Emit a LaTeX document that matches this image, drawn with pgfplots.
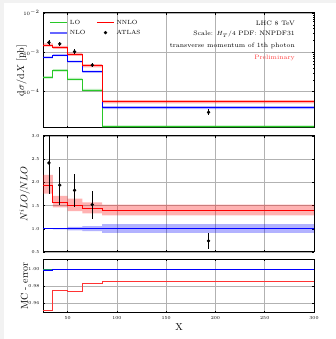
\documentclass[border=0pt]{standalone}
\usepackage{pgfplots}
\pgfplotsset{compat=1.18}
\definecolor{lograin}{RGB}{40,200,40}
\pgfplotsset{
  panel/.style={
    scale only axis, width=271pt,
    xmin=25, xmax=300, xtick={50,100,150,200,250,300},
    grid=major, major grid style={black!30, line width=0.7pt},
    axis line style={line width=1pt},
    tick align=inside, major tick length=2pt, minor tick length=1pt,
    tick style={black, line width=0.5pt},
    tick label style={font=\fontsize{4.5}{5}\selectfont},
    label style={font=\fontsize{8}{9}\selectfont},
    clip=true,
  },
}
\begin{document}
\begin{tikzpicture}
\useasboundingbox (0,0) rectangle (336pt,339pt);
\fill[black!5] (0,0) rectangle (336pt,339pt);
\fill[white] (4pt,0) rectangle (336pt,336pt);
% ---------- top panel ----------
\begin{axis}[panel, at={(43pt,211pt)}, anchor=south west, height=115pt,
  ymode=log, ymin=1.2e-5, ymax=1e-2, ytick={1e-4,1e-3,1e-2},
  xticklabels={},
  ylabel={$\mathrm{d}\sigma/\mathrm{d}X$ [pb]},
  every axis y label/.style={at={(axis description cs:-0.079,0.5)},rotate=90,anchor=center},
  legend columns=2,
  legend style={at={(axis description cs:0.01,0.975)}, anchor=north west, draw=none, fill=none,
    font=\fontsize{6}{7.5}\selectfont, /tikz/every even column/.append style={column sep=9pt}},
  legend cell align=left,
]
% bands
\addplot[forget plot, fill=lograin, fill opacity=0.3, draw=none] coordinates {
(25,2.5e-4)(35,2.5e-4)(35,3.75e-4)(50,3.75e-4)(50,2.26e-4)(65,2.26e-4)(65,1.18e-4)(85,1.18e-4)(85,1.39e-5)(300,1.39e-5)
(300,1.2e-5)(85,1.2e-5)(85,1.02e-4)(65,1.02e-4)(65,1.95e-4)(50,1.95e-4)(50,3.25e-4)(35,3.25e-4)(35,2.16e-4)(25,2.16e-4)} -- cycle;
\addplot[forget plot, fill=blue, fill opacity=0.3, draw=none] coordinates {
(25,7.9e-4)(35,7.9e-4)(35,9.0e-4)(50,9.0e-4)(50,6.15e-4)(65,6.15e-4)(65,3.45e-4)(85,3.45e-4)(85,4.3e-5)(300,4.3e-5)
(300,3.6e-5)(85,3.6e-5)(85,3.0e-4)(65,3.0e-4)(65,5.45e-4)(50,5.45e-4)(50,8.0e-4)(35,8.0e-4)(35,7.05e-4)(25,7.05e-4)} -- cycle;
\addplot[forget plot, fill=red, fill opacity=0.3, draw=none] coordinates {
(25,1.68e-3)(35,1.68e-3)(35,1.47e-3)(50,1.47e-3)(50,0.98e-3)(65,0.98e-3)(65,5.0e-4)(85,5.0e-4)(85,6.1e-5)(300,6.1e-5)
(300,5.05e-5)(85,5.05e-5)(85,4.15e-4)(65,4.15e-4)(65,0.81e-3)(50,0.81e-3)(50,1.22e-3)(35,1.22e-3)(35,1.39e-3)(25,1.39e-3)} -- cycle;
% lines
\addplot[forget plot, const plot, lograin, line width=1pt] coordinates {(25,2.32e-4)(35,3.49e-4)(50,2.1e-4)(65,1.1e-4)(85,1.29e-5)(300,1.29e-5)};
\addplot[forget plot, const plot, blue, line width=1pt] coordinates {(25,7.46e-4)(35,8.5e-4)(50,5.78e-4)(65,3.22e-4)(85,3.93e-5)(300,3.93e-5)};
\addplot[forget plot, const plot, red, line width=1pt] coordinates {(25,1.53e-3)(35,1.34e-3)(50,0.89e-3)(65,4.57e-4)(85,5.57e-5)(300,5.57e-5)};
% data
\addplot[forget plot, only marks, mark=*, mark size=1.5pt, black,
  error bars/.cd, y dir=both, y explicit, error bar style={line width=0.8pt}, error mark=none] coordinates {
(31,1.79e-3) += (0,0.33e-3) -= (0,0.28e-3)
(42,1.65e-3) += (0,0.22e-3) -= (0,0.2e-3)
(57,1.04e-3) += (0,0.15e-3) -= (0,0.13e-3)
(75,4.76e-4) += (0,0.65e-4) -= (0,0.6e-4)
(193,3.0e-5) += (0,0.6e-5) -= (0,0.5e-5)};
\addlegendimage{lograin, line width=1pt}
\addlegendentry{LO}
\addlegendimage{red, line width=1pt}
\addlegendentry{NNLO}
\addlegendimage{blue!60, line width=2pt}
\addlegendentry{NLO}
\addlegendimage{only marks, mark=*, mark size=1.5pt, black}
\addlegendentry{ATLAS}
\node[anchor=east, font=\fontsize{6.4}{8}\selectfont, inner sep=0pt] at (axis description cs:0.93,0.91) {LHC 8 TeV};
\node[anchor=east, font=\fontsize{6.4}{8}\selectfont, inner sep=0pt] at (axis description cs:0.93,0.815) {Scale: $H_T/4$ PDF: NNPDF31};
\node[anchor=east, font=\fontsize{6.4}{8}\selectfont, inner sep=0pt] at (axis description cs:0.93,0.715) {transverse momentum of 1th photon};
\node[anchor=east, font=\fontsize{6.4}{8}\selectfont, inner sep=0pt, text=red!75] at (axis description cs:0.93,0.605) {Preliminary};
\end{axis}
% ---------- middle panel ----------
\begin{axis}[panel, at={(43pt,87pt)}, anchor=south west, height=116pt,
  ymin=0.5, ymax=3.0, ytick={0.5,1.0,1.5,2.0,2.5,3.0},
  yticklabels={0.5,1.0,1.5,2.0,2.5,3.0},
  xticklabels={},
  ylabel={$N^{i}LO/NLO$},
  every axis y label/.style={at={(axis description cs:-0.068,0.5)},rotate=90,anchor=center},
]
\addplot[fill=blue, fill opacity=0.3, draw=none] coordinates {
(35,1.0)(35,1.01)(50,1.01)(50,1.04)(65,1.04)(65,1.06)(85,1.06)(85,1.10)(300,1.10)
(300,0.91)(85,0.91)(85,0.95)(65,0.95)(65,0.965)(50,0.965)(50,0.99)(35,0.99)} -- cycle;
\addplot[fill=red, fill opacity=0.3, draw=none] coordinates {
(25,2.16)(35,2.16)(35,1.71)(50,1.71)(50,1.65)(65,1.65)(65,1.57)(85,1.57)(85,1.52)(300,1.52)
(300,1.29)(85,1.29)(85,1.33)(65,1.33)(65,1.38)(50,1.38)(50,1.46)(35,1.46)(35,1.76)(25,1.76)} -- cycle;
\addplot[const plot, blue, line width=0.8pt] coordinates {(25,1.0)(300,1.0)};
\addplot[const plot, red, line width=0.8pt] coordinates {(25,1.94)(35,1.57)(50,1.51)(65,1.44)(85,1.40)(300,1.40)};
\addplot[only marks, mark=*, mark size=1.5pt, black,
  error bars/.cd, y dir=both, y explicit, error bar style={line width=0.8pt}, error mark=none] coordinates {
(31,2.42) += (0,0.9) -= (0,0.66)
(42,1.94) += (0,0.40) -= (0,0.42)
(57,1.83) += (0,0.36) -= (0,0.36)
(75,1.52) += (0,0.29) -= (0,0.30)
(193,0.74) += (0,0.18) -= (0,0.17)};
\end{axis}
% ---------- bottom panel ----------
\begin{axis}[panel, at={(43pt,26.3pt)}, anchor=south west, height=53.4pt,
  ymin=0.949, ymax=1.0113, ytick={0.96,0.98,1.00},
  yticklabels={0.96,0.98,1.00},
  xticklabels={50,100,150,200,250,300},
  xlabel={X}, ylabel={MC - error},
  every axis y label/.style={at={(axis description cs:-0.068,0.5)},rotate=90,anchor=center},
  every axis x label/.style={at={(axis description cs:0.502,0)},yshift=-14.6pt,anchor=center},
]
\addplot[const plot, lograin!70!blue, line width=0.8pt] coordinates {(25,1.0)(300,1.0)};
\addplot[const plot, blue, line width=0.8pt] coordinates {(25,0.9985)(35,0.9993)(50,0.9996)(65,0.9997)(85,0.9997)(300,0.9997)};
\addplot[const plot, red!80, line width=0.9pt] coordinates {(25,0.952)(35,0.975)(50,0.974)(65,0.9836)(85,0.9856)(300,0.9856)};
\end{axis}
\end{tikzpicture}
\end{document}
